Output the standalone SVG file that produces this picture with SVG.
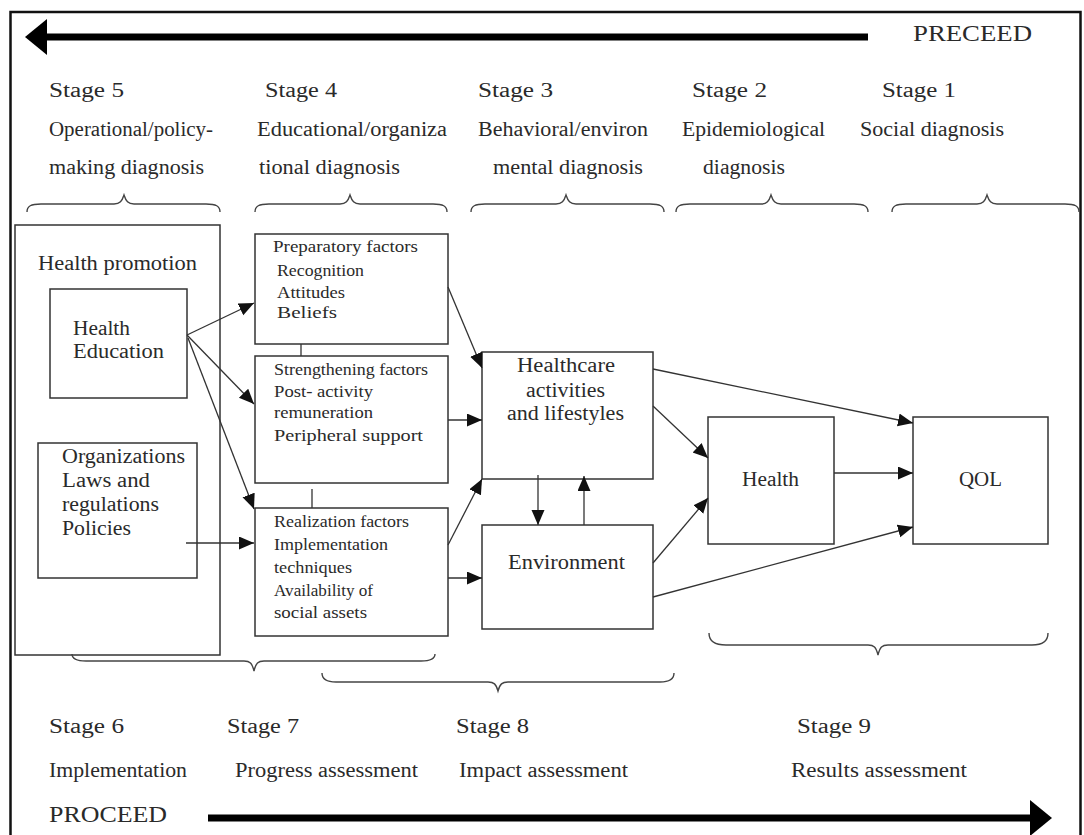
<svg xmlns="http://www.w3.org/2000/svg" width="1084" height="835" viewBox="0 0 1084 835">
<style>
text{font-family:"Liberation Serif","Times New Roman",serif;fill:#2a2a2a;}
.L{font-size:20px;}
.S{font-size:16px;}
.C{font-size:23px;}
.box{fill:none;stroke:#333;stroke-width:1.5;}
.ln{fill:none;stroke:#333;stroke-width:1.3;}
.br{fill:none;stroke:#444;stroke-width:1.4;}
</style>
<defs>
<marker id="ah" markerUnits="userSpaceOnUse" markerWidth="16" markerHeight="14" refX="15" refY="6.5" orient="auto">
<path d="M0,0 L15,6.5 L0,13 z" fill="#111"/>
</marker>
</defs>
<rect x="0" y="0" width="1084" height="835" fill="#fff"/>
<rect x="10.5" y="12" width="1070" height="840" fill="none" stroke="#111" stroke-width="2.5"/>

<g id="preceed">
<line x1="45" y1="37" x2="868" y2="37" stroke="#000" stroke-width="7"/>
<polygon points="25,37 47,19 47,55" fill="#000"/>
<text class="C" x="913" y="41" textLength="119" lengthAdjust="spacingAndGlyphs">PRECEED</text>
</g>

<g id="top-stages">
<text class="L" x="49" y="97" textLength="75" lengthAdjust="spacingAndGlyphs">Stage 5</text>
<text class="L" x="265" y="97" textLength="72" lengthAdjust="spacingAndGlyphs">Stage 4</text>
<text class="L" x="478" y="97" textLength="75" lengthAdjust="spacingAndGlyphs">Stage 3</text>
<text class="L" x="692" y="97" textLength="75" lengthAdjust="spacingAndGlyphs">Stage 2</text>
<text class="L" x="882" y="97" textLength="74" lengthAdjust="spacingAndGlyphs">Stage 1</text>
<text class="L" x="49" y="136" textLength="164" lengthAdjust="spacingAndGlyphs">Operational/policy-</text>
<text class="L" x="257" y="136" textLength="190" lengthAdjust="spacingAndGlyphs">Educational/organiza</text>
<text class="L" x="478" y="136" textLength="170" lengthAdjust="spacingAndGlyphs">Behavioral/environ</text>
<text class="L" x="682" y="136" textLength="143" lengthAdjust="spacingAndGlyphs">Epidemiological</text>
<text class="L" x="860" y="136" textLength="144" lengthAdjust="spacingAndGlyphs">Social diagnosis</text>
<text class="L" x="49" y="174" textLength="155" lengthAdjust="spacingAndGlyphs">making diagnosis</text>
<text class="L" x="259" y="174" textLength="141" lengthAdjust="spacingAndGlyphs">tional diagnosis</text>
<text class="L" x="493" y="174" textLength="150" lengthAdjust="spacingAndGlyphs">mental diagnosis</text>
<text class="L" x="703" y="174" textLength="82" lengthAdjust="spacingAndGlyphs">diagnosis</text>
</g>

<g id="top-braces">
<path class="br" d="M27,212 C27,206 31,204 41,204 L114,204 C120,204 122,201 124,195 C126,201 128,204 134,204 L206,204 C216,204 220,206 220,212"/>
<path class="br" d="M255,212 C255,206 259,204 269,204 L340,204 C346,204 348,201 350,195 C352,201 354,204 360,204 L433,204 C443,204 447,206 447,212"/>
<path class="br" d="M471,212 C471,206 475,204 485,204 L556,204 C562,204 564,201 566,195 C568,201 570,204 576,204 L650,204 C660,204 664,206 664,212"/>
<path class="br" d="M676,212 C676,206 680,204 690,204 L761,204 C767,204 769,201 771,195 C773,201 775,204 781,204 L854,204 C864,204 868,206 868,212"/>
<path class="br" d="M892,212 C892,206 896,204 906,204 L977,204 C983,204 985,201 987,195 C989,201 991,204 997,204 L1065,204 C1075,204 1079,206 1079,212"/>
</g>

<g id="health-promotion">
<rect class="box" x="15" y="225" width="205" height="430"/>
<text class="L" x="38" y="270" textLength="159" lengthAdjust="spacingAndGlyphs">Health promotion</text>
</g>
<g id="health-education">
<rect class="box" x="50" y="289" width="137" height="109"/>
<text class="L" x="73" y="335" textLength="57" lengthAdjust="spacingAndGlyphs">Health</text>
<text class="L" x="73" y="358" textLength="91" lengthAdjust="spacingAndGlyphs">Education</text>
</g>
<g id="organizations">
<rect class="box" x="38" y="443" width="159" height="135"/>
<text class="L" x="62" y="463" textLength="123" lengthAdjust="spacingAndGlyphs">Organizations</text>
<text class="L" x="62" y="487" textLength="88" lengthAdjust="spacingAndGlyphs">Laws and</text>
<text class="L" x="62" y="511" textLength="97" lengthAdjust="spacingAndGlyphs">regulations</text>
<text class="L" x="62" y="535" textLength="69" lengthAdjust="spacingAndGlyphs">Policies</text>
</g>
<g id="preparatory">
<rect class="box" x="255" y="234" width="193" height="110"/>
<text class="S" x="273" y="252" textLength="145" lengthAdjust="spacingAndGlyphs">Preparatory factors</text>
<text class="S" x="277" y="276" textLength="87" lengthAdjust="spacingAndGlyphs">Recognition</text>
<text class="S" x="277" y="298" textLength="68" lengthAdjust="spacingAndGlyphs">Attitudes</text>
<text class="S" x="277" y="318" textLength="60" lengthAdjust="spacingAndGlyphs">Beliefs</text>
</g>
<g id="strengthening">
<rect class="box" x="255" y="356" width="193" height="127"/>
<text class="S" x="274" y="375" textLength="154" lengthAdjust="spacingAndGlyphs">Strengthening factors</text>
<text class="S" x="274" y="397" textLength="99" lengthAdjust="spacingAndGlyphs">Post- activity</text>
<text class="S" x="274" y="418" textLength="99" lengthAdjust="spacingAndGlyphs">remuneration</text>
<text class="S" x="274" y="441" textLength="149" lengthAdjust="spacingAndGlyphs">Peripheral support</text>
</g>
<g id="realization">
<rect class="box" x="255" y="508" width="193" height="128"/>
<text class="S" x="274" y="527" textLength="135" lengthAdjust="spacingAndGlyphs">Realization factors</text>
<text class="S" x="274" y="550" textLength="114" lengthAdjust="spacingAndGlyphs">Implementation</text>
<text class="S" x="274" y="573" textLength="78" lengthAdjust="spacingAndGlyphs">techniques</text>
<text class="S" x="274" y="596" textLength="99" lengthAdjust="spacingAndGlyphs">Availability of</text>
<text class="S" x="274" y="618" textLength="93" lengthAdjust="spacingAndGlyphs">social assets</text>
</g>
<g id="healthcare">
<rect class="box" x="482" y="352" width="171" height="127"/>
<text class="L" x="517" y="372" textLength="98" lengthAdjust="spacingAndGlyphs">Healthcare</text>
<text class="L" x="526" y="397" textLength="79" lengthAdjust="spacingAndGlyphs">activities</text>
<text class="L" x="507" y="420" textLength="117" lengthAdjust="spacingAndGlyphs">and lifestyles</text>
</g>
<g id="environment">
<rect class="box" x="482" y="525" width="171" height="104"/>
<text class="L" x="508" y="569" textLength="117" lengthAdjust="spacingAndGlyphs">Environment</text>
</g>
<g id="health">
<rect class="box" x="708" y="417" width="126" height="127"/>
<text class="L" x="742" y="486" textLength="57" lengthAdjust="spacingAndGlyphs">Health</text>
</g>
<g id="qol">
<rect class="box" x="913" y="417" width="135" height="127"/>
<text class="L" x="959" y="486" textLength="43" lengthAdjust="spacingAndGlyphs">QOL</text>
</g>

<g id="connectors">
<line class="ln" x1="187" y1="335" x2="254" y2="303" marker-end="url(#ah)"/>
<line class="ln" x1="187" y1="335" x2="254" y2="404" marker-end="url(#ah)"/>
<line class="ln" x1="188" y1="338" x2="254" y2="509" marker-end="url(#ah)"/>
<line class="ln" x1="186" y1="543" x2="254" y2="543" marker-end="url(#ah)"/>
<line class="ln" x1="448" y1="287" x2="482" y2="368" marker-end="url(#ah)"/>
<line class="ln" x1="448" y1="420" x2="482" y2="420" marker-end="url(#ah)"/>
<line class="ln" x1="448" y1="545" x2="482" y2="479" marker-end="url(#ah)"/>
<line class="ln" x1="448" y1="578" x2="482" y2="578" marker-end="url(#ah)"/>
<line class="ln" x1="538" y1="475" x2="538" y2="525" marker-end="url(#ah)"/>
<line class="ln" x1="584" y1="525" x2="584" y2="476" marker-end="url(#ah)"/>
<line class="ln" x1="653" y1="369" x2="913" y2="423" marker-end="url(#ah)"/>
<line class="ln" x1="653" y1="406" x2="708" y2="458" marker-end="url(#ah)"/>
<line class="ln" x1="653" y1="563" x2="708" y2="498" marker-end="url(#ah)"/>
<line class="ln" x1="834" y1="473" x2="913" y2="473" marker-end="url(#ah)"/>
<line class="ln" x1="653" y1="597" x2="913" y2="527" marker-end="url(#ah)"/>
<line class="ln" x1="301" y1="344" x2="301" y2="356"/>
<line class="ln" x1="312" y1="489" x2="312" y2="508"/>
</g>

<g id="bottom-braces">
<path class="br" d="M72,654 C72,659 76,661 86,661 L244,661 C250,661 252,663 254,671 C256,663 258,661 264,661 L421,661 C431,661 435,659 435,654"/>
<path class="br" d="M322,673 C322,679 326,682 336,682 L488,682 C494,682 496,684 498,691 C500,684 502,682 508,682 L660,682 C670,682 674,679 674,673"/>
<path class="br" d="M709,633 C709,640 714,645 726,645 L868,645 C874,645 876,647 878,655 C880,647 882,645 888,645 L1032,645 C1044,645 1048,640 1048,633"/>
</g>

<g id="bottom-stages">
<text class="L" x="49" y="733" textLength="75" lengthAdjust="spacingAndGlyphs">Stage 6</text>
<text class="L" x="227" y="733" textLength="72" lengthAdjust="spacingAndGlyphs">Stage 7</text>
<text class="L" x="456" y="733" textLength="73" lengthAdjust="spacingAndGlyphs">Stage 8</text>
<text class="L" x="797" y="733" textLength="74" lengthAdjust="spacingAndGlyphs">Stage 9</text>
<text class="L" x="49" y="777" textLength="138" lengthAdjust="spacingAndGlyphs">Implementation</text>
<text class="L" x="235" y="777" textLength="183" lengthAdjust="spacingAndGlyphs">Progress assessment</text>
<text class="L" x="459" y="777" textLength="169" lengthAdjust="spacingAndGlyphs">Impact assessment</text>
<text class="L" x="791" y="777" textLength="176" lengthAdjust="spacingAndGlyphs">Results assessment</text>
</g>

<g id="proceed">
<text class="C" x="49" y="822" textLength="118" lengthAdjust="spacingAndGlyphs">PROCEED</text>
<line x1="208" y1="818" x2="1032" y2="818" stroke="#000" stroke-width="7"/>
<polygon points="1052,818 1030,800 1030,836" fill="#000"/>
</g>
</svg>
